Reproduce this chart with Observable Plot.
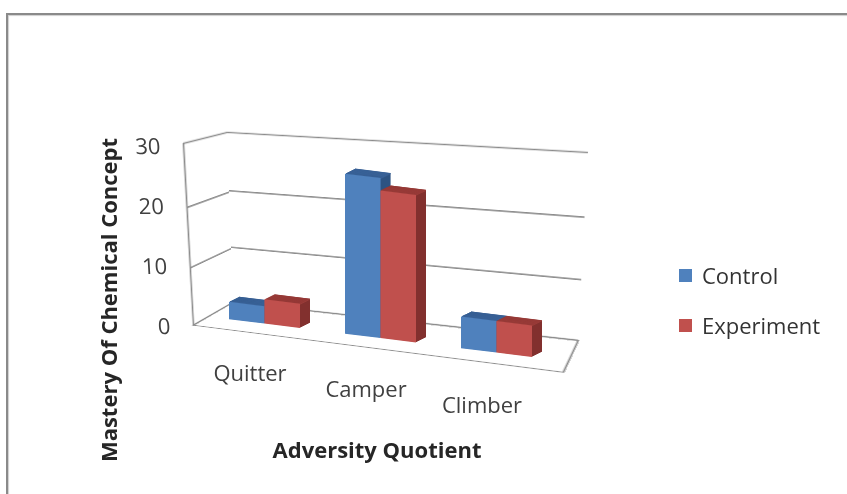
<!DOCTYPE html>
<html>
<head>
<meta charset="utf-8">
<script src="https://cdn.jsdelivr.net/npm/d3@7"></script>
<script src="https://cdn.jsdelivr.net/npm/@observablehq/plot@0.6"></script>
<style>
  html, body { margin: 0; padding: 0; background: #fff; }
  #chart { position: relative; width: 847px; height: 494px; overflow: hidden; font-family: "Open Sans", sans-serif; }
  #chart svg { position: absolute; left: 0; top: 0; transform-origin: 0 0; }
  .border { position: absolute; left: 6px; top: 13px; width: 900px; height: 600px; border-top: 2px solid #8a8a8a; border-left: 2px solid #8a8a8a; box-shadow: inset 1px 1px 1px #cfcfcf; }
  .ytitle { position: absolute; left: 108px; top: 300px; transform: translate(-50%, -50%) rotate(-90deg); white-space: nowrap; font-weight: bold; font-size: 22px; color: #262626; }
  .xtitle { position: absolute; left: 377px; top: 449px; transform: translate(-50%, -50%); white-space: nowrap; font-weight: bold; font-size: 22px; color: #262626; }
  .legend { position: absolute; left: 679px; top: 258px; font-size: 22px; color: #333; }
  .legend .item { display: flex; align-items: center; height: 34px; margin-bottom: 16px; }
  .legend .sw { width: 13px; height: 13px; margin-right: 10px; }
</style>
</head>
<body>
<div id="chart"><div class="border"></div></div>
<script>
// ---- data ----
const categories = ["Quitter", "Camper", "Climber"];
const control = [2.8, 25.8, 5.1];
const experiment = [3.9, 23.8, 5.1];
const seriesNames = ["Control", "Experiment"];
const yTicks = [0, 10, 20, 30];
const xTitle = "Adversity Quotient";
const yTitle = "Mastery Of Chemical Concept";

const rows = categories.map((c, i) => ({category: c, Control: control[i], Experiment: experiment[i]}));

const W = 847, H = 494;
const chart = document.getElementById("chart");

function homography(src, dst) {
  const A = [], b = [];
  for (let i = 0; i < 4; i++) {
    const [x, y] = src[i], [u, v] = dst[i];
    A.push([x, y, 1, 0, 0, 0, -x * u, -y * u]); b.push(u);
    A.push([0, 0, 0, x, y, 1, -x * v, -y * v]); b.push(v);
  }
  const n = 8;
  for (let c = 0; c < n; c++) {
    let p = c;
    for (let r = c + 1; r < n; r++) if (Math.abs(A[r][c]) > Math.abs(A[p][c])) p = r;
    [A[c], A[p]] = [A[p], A[c]]; [b[c], b[p]] = [b[p], b[c]];
    for (let r = 0; r < n; r++) {
      if (r === c) continue;
      const f = A[r][c] / A[c][c];
      for (let k = c; k < n; k++) A[r][k] -= f * A[c][k];
      b[r] -= f * b[c];
    }
  }
  const h = b.map((v, i) => v / A[i][i]);
  const [a, bb, c, d, e, f, g, hh] = h;
  return `matrix3d(${a},${d},0,${g},${bb},${e},0,${hh},0,0,1,0,${c},${f},0,1)`;
}

function addLayer(svg, transform) {
  if (transform) svg.style.transform = transform;
  chart.append(svg);
}

const gridColor = "#8c8c8c";

// wall layer helper: a frame [x0,y0]-[x1,y1] mapped onto a quad
function wall(frame, quad, marks) {
  const [x0, y0, x1, y1] = frame;
  const svg = Plot.plot({
    width: W, height: H,
    marginLeft: x0, marginRight: W - x1, marginTop: y0, marginBottom: H - y1,
    x: {domain: [0, 1], axis: null},
    y: {domain: [0, 30], axis: null},
    style: {background: "transparent", overflow: "visible"},
    marks
  });
  const src = [[x0, y0], [x1, y0], [x1, y1], [x0, y1]];
  addLayer(svg, homography(src, quad));
}

// back wall
wall([227, 132, 588, 340], [[227, 132], [588, 152], [578, 340], [233, 302]],
  [Plot.ruleY(yTicks, {stroke: gridColor, strokeWidth: 1.7})]);
// left wall
wall([183, 132, 233, 325], [[183, 143], [227, 132], [233, 302], [193, 325]],
  [Plot.ruleY(yTicks, {stroke: gridColor, strokeWidth: 1.7}), Plot.ruleX([0], {stroke: gridColor, strokeWidth: 1.7})]);
// floor
wall([193, 302, 578, 372], [[233, 302], [578, 340], [563, 372], [193, 325]],
  [Plot.frame({stroke: gridColor, strokeWidth: 1.7})]);

// ---- bars ----
const mL = 183.5, mR = 270, pad = 0.39;
const step = (W - mL - mR) / (categories.length + pad);
const half = step * (1 - pad) / 2;
const seriesDefs = [
  {key: "Control", front: "#4f81bd", top: "#3a6399", side: "#2e5382", il: 0, ir: half},
  {key: "Experiment", front: "#c0504d", top: "#9a3c39", side: "#82302e", il: half, ir: 0}
];
const N = 10, DX = 1, DY = 0.62;
const barMarks = [];
for (let i = N; i >= 1; i--) {
  for (const s of seriesDefs) {
    barMarks.push(Plot.barY(rows, {x: "category", y: s.key, fill: s.side, insetLeft: s.il, insetRight: s.ir, dx: i * DX, dy: -i * DY}));
    barMarks.push(Plot.tickY(rows, {x: "category", y: s.key, stroke: s.top, strokeWidth: 1.3, insetLeft: s.il, insetRight: s.ir, dx: i * DX, dy: -i * DY}));
  }
}
for (const s of seriesDefs) {
  barMarks.push(Plot.barY(rows, {x: "category", y: s.key, fill: s.front, insetLeft: s.il, insetRight: s.ir}));
}
const barsSvg = Plot.plot({
  width: W, height: H,
  marginLeft: mL, marginRight: mR, marginTop: 147, marginBottom: H - 333,
  x: {type: "band", domain: categories, padding: pad, axis: null},
  y: {domain: [0, 30], axis: null},
  style: {background: "transparent", overflow: "visible"},
  marks: barMarks
});
const slope = 0.125, pivotX = 340;
addLayer(barsSvg, `matrix(1, ${slope}, 0, 1, 0, ${-slope * pivotX})`);

// ---- y tick labels (front edge of the left wall) ----
const yTop = 146.7, yBot = 326.7, k = 0.0556;
const ySvg = Plot.plot({
  width: W, height: H,
  marginLeft: 163, marginRight: 0, marginTop: yTop, marginBottom: H - yBot,
  y: {domain: [0, 30], ticks: yTicks, tickSize: 0, tickPadding: 3, label: null},
  style: {background: "transparent", overflow: "visible", fontSize: "22px", fontFamily: "Open Sans", color: "#404040"},
  marks: [Plot.ruleY(yTicks, {strokeOpacity: 0})]
});
addLayer(ySvg, `matrix(1, 0, ${k}, 1, ${-k * yTop}, 0)`);

// ---- category labels along the sloping floor edge ----
const xSvg = Plot.plot({
  width: W, height: H,
  marginLeft: mL, marginRight: mR, marginTop: 0, marginBottom: 0,
  x: {type: "band", domain: categories, padding: pad, axis: null},
  y: {type: "point", domain: categories, range: [372, 405], padding: 0, axis: null},
  style: {background: "transparent", overflow: "visible", fontFamily: "Open Sans", color: "#404040"},
  marks: [Plot.text(categories, {x: d => d, y: d => d, dx: -15, fontSize: 22, fill: "#404040"})]
});
addLayer(xSvg, null);

// ---- titles & legend ----
const yt = document.createElement("div"); yt.className = "ytitle"; yt.textContent = yTitle; chart.append(yt);
const xt = document.createElement("div"); xt.className = "xtitle"; xt.textContent = xTitle; chart.append(xt);
const lg = document.createElement("div"); lg.className = "legend";
seriesNames.forEach((name, i) => {
  const it = document.createElement("div"); it.className = "item";
  const sw = document.createElement("div"); sw.className = "sw"; sw.style.background = seriesDefs[i].front;
  const tx = document.createElement("span"); tx.textContent = name;
  it.append(sw, tx); lg.append(it);
});
chart.append(lg);
</script>
</body>
</html>
